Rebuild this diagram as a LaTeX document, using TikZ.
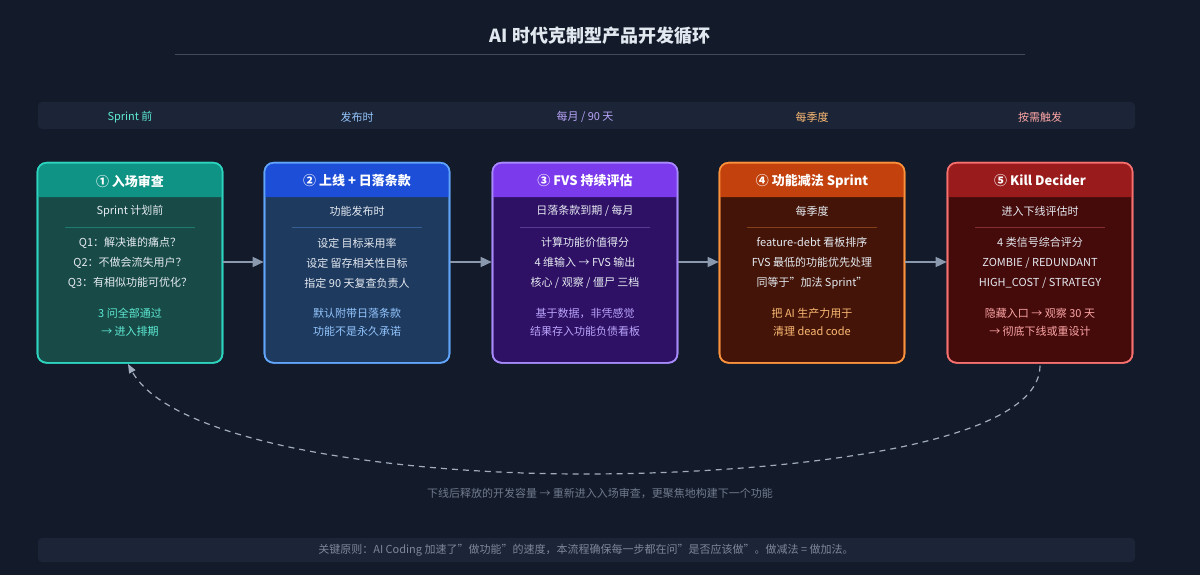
\documentclass[tikz,border=0pt]{standalone}
\usepackage{fontspec}
\setmainfont{Noto Sans CJK SC}
\usetikzlibrary{positioning, arrows.meta, calc}
\definecolor{bgdark}{HTML}{131A29}
\definecolor{bgband}{HTML}{1C2537}
\definecolor{titlecol}{HTML}{E2E8F0}
\definecolor{mutedcol}{HTML}{7C8798}
\definecolor{arrowcol}{HTML}{8A99AE}
\definecolor{tealhead}{HTML}{0E9384}\definecolor{tealbody}{HTML}{184B47}\definecolor{tealline}{HTML}{2DD4BF}\definecolor{tealtext}{HTML}{5EEAD4}
\definecolor{bluehead}{HTML}{1D4ED8}\definecolor{bluebody}{HTML}{1E3A5F}\definecolor{blueline}{HTML}{60A5FA}\definecolor{bluetext}{HTML}{93C5FD}
\definecolor{purphead}{HTML}{7C3AED}\definecolor{purpbody}{HTML}{2E1065}\definecolor{purpline}{HTML}{A78BFA}\definecolor{purptext}{HTML}{B9A4FB}
\definecolor{orahead}{HTML}{C2410C}\definecolor{orabody}{HTML}{431407}\definecolor{oraline}{HTML}{FB923C}\definecolor{oratext}{HTML}{FDBA74}
\definecolor{redhead}{HTML}{991B1B}\definecolor{redbody}{HTML}{450A0A}\definecolor{redline}{HTML}{F87171}\definecolor{redtext}{HTML}{FCA5A5}
\newcommand\dq{\char34}
\tikzset{
  stage/.style={draw, line width=1.6pt, rounded corners=9pt, minimum width=185pt,
    minimum height=200pt, inner sep=0, anchor=north},
  head/.style={text=white, font=\bfseries\fontsize{13}{15}\selectfont},
  sub/.style={text=titlecol!85, font=\fontsize{11}{13}\selectfont},
  body/.style={text=titlecol!90, font=\fontsize{11}{20}\selectfont, align=center},
  note/.style={font=\fontsize{11}{18}\selectfont, align=center},
  band/.style={font=\fontsize{11}{13}\selectfont},
  flow/.style={-{Triangle[length=11pt,width=10pt]}, line width=1.5pt, draw=arrowcol}
}
\newcommand\stagebox[6]{% name, x centre, head colour, body colour, line colour, header text
  \node[stage, fill=#4, draw=#5] (#1) at (#2,-162) {};
  \fill[#3] (#2-92.5,-197) [rounded corners=9pt] -- (#2-92.5,-162) -- (#2+92.5,-162) [sharp corners] -- (#2+92.5,-197) -- cycle;
  \node[stage, draw=#5] at (#2,-162) {};
  \node[head] (#1h) at (#2,-181) {#6};
  \draw[#5!35!#4, line width=0.6pt] (#2-65,-227) -- (#2+65,-227);
}
\begin{document}
\begin{tikzpicture}[x=1pt,y=1pt]
\fill[bgdark] (0,0) rectangle (1200,-575);
\useasboundingbox (0,0) rectangle (1200,-575);

% title
\node[text=titlecol, font=\bfseries\fontsize{18}{20}\selectfont] (title) at (600,-36) {AI 时代克制型产品开发循环};
\draw[mutedcol!45!bgdark, line width=0.8pt] (175,-54) -- (1025,-54);

% timing band
\fill[bgband, rounded corners=4pt] (38,-102) rectangle (1135,-129);
\node[band, text=tealtext] (t1) at (130,-117) {Sprint 前};
\node[band, text=bluetext] (t2) at (357,-117) {发布时};
\node[band, text=purptext] (t3) at (585,-117) {每月 / 90 天};
\node[band, text=oratext] (t4) at (812,-117) {每季度};
\node[band, text=redtext] (t5) at (1040,-117) {按需触发};

% stages
\stagebox{s1}{130}{tealhead}{tealbody}{tealline}{① 入场审查}
\node[sub] at (130,-211) {Sprint 计划前};
\node[body] at (130,-263) {Q1：解决谁的痛点？\\Q2：不做会流失用户？\\Q3：有相似功能可优化？};
\node[note, text=tealtext] at (130,-322) {3 问全部通过\\→ 进入排期};

\stagebox{s2}{357}{bluehead}{bluebody}{blueline}{② 上线 + 日落条款}
\node[sub] at (357,-211) {功能发布时};
\node[body] at (357,-263) {设定 目标采用率\\设定 留存相关性目标\\指定 90 天复查负责人};
\node[note, text=bluetext] at (357,-322) {默认附带日落条款\\功能不是永久承诺};

\stagebox{s3}{585}{purphead}{purpbody}{purpline}{③ FVS 持续评估}
\node[sub] at (585,-211) {日落条款到期 / 每月};
\node[body] at (585,-263) {计算功能价值得分\\4 维输入 → FVS 输出\\核心 / 观察 / 僵尸 三档};
\node[note, text=purptext] at (585,-322) {基于数据，非凭感觉\\结果存入功能负债看板};

\stagebox{s4}{812}{orahead}{orabody}{oraline}{④ 功能减法 Sprint}
\node[sub] at (812,-211) {每季度};
\node[body] at (812,-263) {feature-debt 看板排序\\FVS 最低的功能优先处理\\同等于\dq 加法 Sprint\dq};
\node[note, text=oratext] at (812,-322) {把 AI 生产力用于\\清理 dead code};

\stagebox{s5}{1040}{redhead}{redbody}{redline}{⑤ Kill Decider}
\node[sub] at (1040,-211) {进入下线评估时};
\node[body] at (1040,-263) {4 类信号综合评分\\ZOMBIE / REDUNDANT\\HIGH\_COST / STRATEGY};
\node[note, text=redtext] at (1040,-322) {隐藏入口 → 观察 30 天\\→ 彻底下线或重设计};

% flow
\draw[flow] (s1.east |- 0,-262) -- (s2.west |- 0,-262);
\draw[flow] (s2.east |- 0,-262) -- (s3.west |- 0,-262);
\draw[flow] (s3.east |- 0,-262) -- (s4.west |- 0,-262);
\draw[flow] (s4.east |- 0,-262) -- (s5.west |- 0,-262);

% loop back
\draw[arrowcol!80, line width=1.2pt, dashed, dash pattern=on 6pt off 5pt, -{Triangle[length=9pt,width=7pt]}]
  ([yshift=-2pt]s5.south) .. controls (1040,-450) and (760,-474) .. (585,-474)
  .. controls (380,-474) and (170,-440) .. (128,-364);
\node[text=mutedcol!110, font=\fontsize{11}{13}\selectfont] (loop) at (600,-493) {下线后释放的开发容量 → 重新进入入场审查，更聚焦地构建下一个功能};

% principle
\fill[bgband, rounded corners=4pt] (38,-538) rectangle (1135,-562);
\node[text=mutedcol, font=\fontsize{11}{13}\selectfont] (rule) at (586,-550) {关键原则：AI Coding 加速了\dq 做功能\dq 的速度，本流程确保每一步都在问\dq 是否应该做\dq 。做减法 = 做加法。};
\end{tikzpicture}
\end{document}
